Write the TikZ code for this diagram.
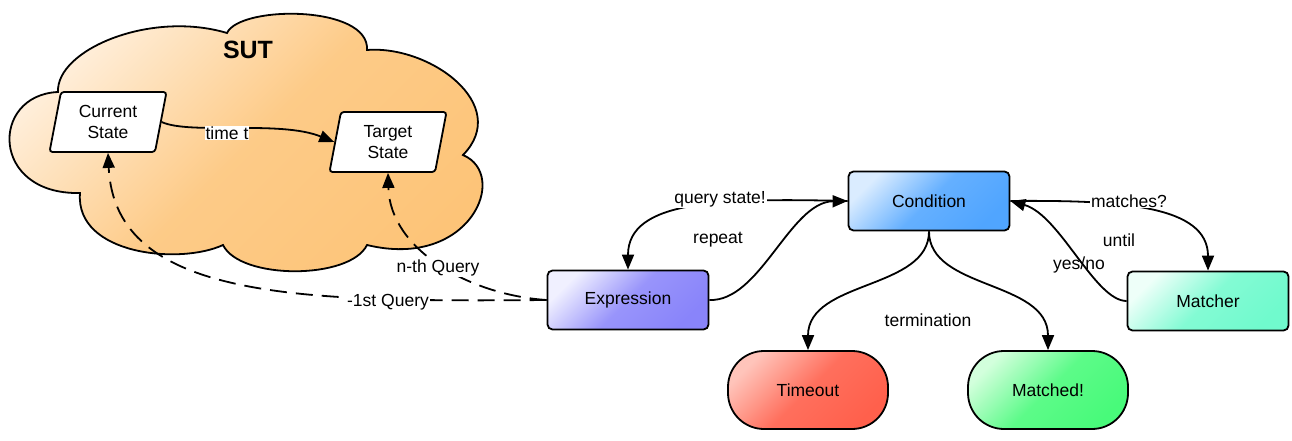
\documentclass[tikz,border=0pt]{standalone}
\usepackage{fontspec}
\setmainfont{Liberation Sans}
\usetikzlibrary{arrows.meta,shapes.geometric}
\definecolor{cloudL}{RGB}{255,241,224}
\definecolor{cloudD}{RGB}{253,196,120}
\definecolor{condL}{RGB}{218,236,255}
\definecolor{condD}{RGB}{80,165,255}
\definecolor{exprL}{RGB}{240,240,255}
\definecolor{exprD}{RGB}{137,132,250}
\definecolor{matchL}{RGB}{238,255,249}
\definecolor{matchD}{RGB}{112,250,205}
\definecolor{toutL}{RGB}{255,196,186}
\definecolor{toutD}{RGB}{255,96,76}
\definecolor{mtdL}{RGB}{210,255,220}
\definecolor{mtdD}{RGB}{72,250,122}
\begin{document}
\begin{tikzpicture}[x=1pt,y=-1pt,
  every node/.style={font=\fontsize{17.5}{21}\selectfont},
  grad/.style 2 args={top color=#1, bottom color=#2, middle color=#2!85!#1, shading angle=45},
  conn/.style={line width=1.8pt, -{Triangle[length=15pt,width=12pt]}},
  dashconn/.style={conn, dash pattern=on 17pt off 9pt},
  box/.style={draw, line width=1.8pt, rounded corners=5pt, minimum width=161pt, minimum height=59pt},
  stad/.style={draw, line width=1.8pt, rounded corners=36pt, minimum width=160pt, minimum height=78pt},
  para/.style={draw, fill=white, line width=1.8pt, trapezium, trapezium left angle=72, trapezium right angle=108,
    trapezium stretches body=true, rounded corners=3pt, minimum width=117pt, minimum height=60pt, align=center, inner sep=1pt},
  lbl/.style={fill=white, inner sep=1pt},
  txt/.style={inner sep=1pt}]
\useasboundingbox (0,0) rectangle (1292,441);
% cloud
\path[draw, line width=1.8pt, grad={cloudL}{cloudD}]
  (58,92) .. controls (56,50) and (150,10) .. (227,33)
  .. controls (240,5) and (370,5) .. (367,50)
  .. controls (430,45) and (512,105) .. (463,155)
  .. controls (510,175) and (470,270) .. (367,245)
  .. controls (350,280) and (240,280) .. (223,245)
  .. controls (180,265) and (75,255) .. (80,193)
  .. controls (-10,195) and (-10,95) .. (58,92) -- cycle;
\node[font=\fontsize{25}{30}\selectfont\bfseries] (sut) at (248,50) {SUT};
\node[para] (cur) at (108,122) {Current\\State};
\node[para] (tgt) at (388,142) {Target\\State};
\node[box, grad={condL}{condD}] (cond) at (929,201) {Condition};
\node[box, grad={exprL}{exprD}] (expr) at (628,300) {Expression};
\node[box, grad={matchL}{matchD}] (match) at (1208,301) {Matcher};
\node[stad, grad={toutL}{toutD}] (tout) at (808,390) {Timeout};
\node[stad, grad={mtdL}{mtdD}] (mtd) at (1048,390) {Matched!};
% connectors
\draw[conn] (cur.east) .. controls (190,135) and (280,120) .. (tgt.west);
\draw[dashconn] (expr.west) .. controls (300,302) and (115,300) .. (cur.south);
\draw[dashconn] (expr.west) .. controls (470,295) and (390,250) .. (tgt.south);
\draw[conn] (expr.east) .. controls (760,302) and (790,202) .. (cond.west);
\draw[conn] (cond.west) .. controls (720,198) and (628,200) .. (expr.north);
\draw[conn] (cond.east) .. controls (1120,200) and (1208,205) .. (match.north);
\draw[conn] (match.west) .. controls (1095,301) and (1060,215) .. (cond.east);
\draw[conn] (cond.south) .. controls (929,290) and (808,280) .. (tout.north);
\draw[conn] (cond.south) .. controls (929,290) and (1048,280) .. (mtd.north);
% labels
\node[lbl] (lt) at (227,133) {time t};
\node[lbl] (l1) at (388,302) {-1st Query};
\node[lbl] (ln) at (438,268) {n-th Query};
\node[lbl] (lq) at (720,199) {query state!};
\node[txt] (lr) at (718,240) {repeat};
\node[lbl] (lm) at (1129,201) {matches?};
\node[txt] (lu) at (1119,240) {until};
\node[txt] (ly) at (1079,265) {yes/no};
\node[txt] (lterm) at (928,320) {termination};
\end{tikzpicture}
\end{document}
